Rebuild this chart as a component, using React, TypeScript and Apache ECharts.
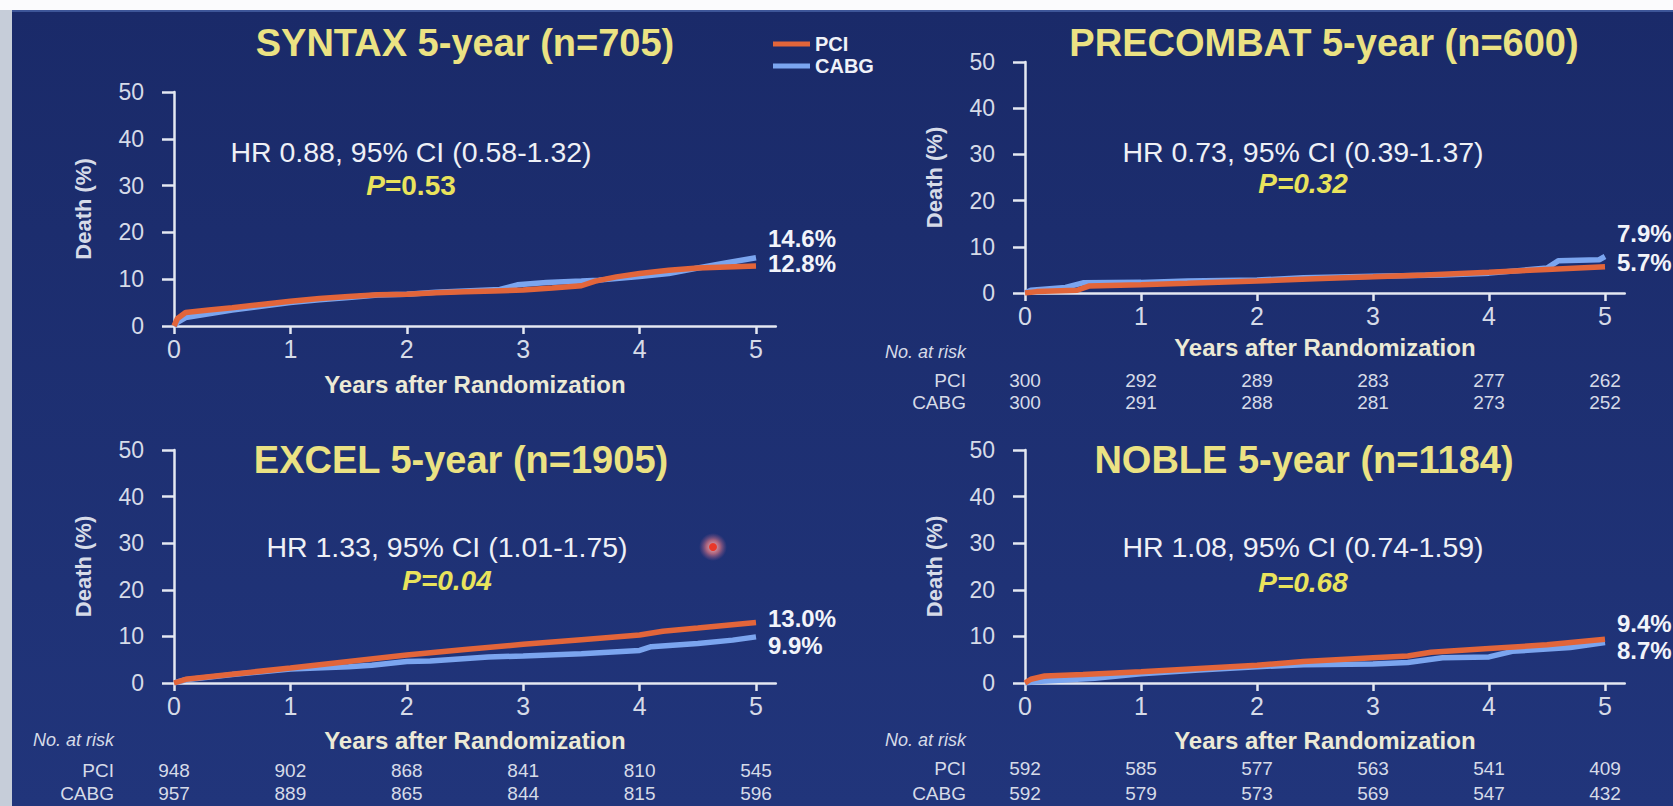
import React, { useEffect, useRef } from 'react';
import * as echarts from 'echarts';

const FONT = '"Liberation Sans", Arial, Helvetica, sans-serif';

const years = [0, 1, 2, 3, 4, 5];
const X_MAX = 5.17;

// Cumulative death (%) by years after randomization: [year, percent]
const syntaxPCI = [[0, 0], [0.03, 1.6], [0.1, 2.9], [0.3, 3.4], [0.5, 3.9], [0.75, 4.6], [1, 5.3], [1.25, 5.9], [1.5, 6.3], [1.75, 6.7], [2, 6.8], [2.25, 7.1], [2.5, 7.3], [2.75, 7.5], [3, 7.7], [3.25, 8.1], [3.5, 8.6], [3.62, 9.6], [3.8, 10.5], [4, 11.2], [4.25, 11.9], [4.5, 12.4], [4.75, 12.6], [5, 12.8]];
const syntaxCABG = [[0, 0], [0.03, 0.8], [0.1, 1.8], [0.3, 2.6], [0.5, 3.4], [0.75, 4.2], [1, 5.0], [1.25, 5.6], [1.5, 6.1], [1.75, 6.6], [2, 6.8], [2.25, 7.2], [2.5, 7.5], [2.8, 7.8], [2.95, 8.8], [3.2, 9.3], [3.5, 9.6], [3.65, 9.8], [4, 10.6], [4.25, 11.2], [4.5, 12.4], [4.75, 13.5], [5, 14.6]];

const precombatPCI = [[0, 0], [0.1, 0.3], [0.45, 0.6], [0.55, 1.5], [1, 1.8], [1.4, 2.1], [2, 2.6], [2.5, 3.1], [3, 3.5], [3.45, 3.9], [4, 4.5], [4.5, 5.1], [5, 5.7]];
const precombatCABG = [[0, 0], [0.05, 0.6], [0.35, 1.2], [0.5, 2.2], [1, 2.3], [1.4, 2.6], [2, 2.8], [2.4, 3.3], [3, 3.6], [3.6, 3.9], [4, 4.3], [4.5, 5.4], [4.6, 7.0], [4.95, 7.2], [5, 7.9]];

const excelPCI = [[0, 0], [0.1, 0.8], [0.5, 1.9], [1, 3.2], [1.5, 4.6], [2, 6.0], [2.5, 7.2], [3, 8.3], [3.5, 9.3], [4, 10.3], [4.2, 11.1], [4.5, 11.8], [4.75, 12.4], [5, 13.0]];
const excelCABG = [[0, 0], [0.1, 0.7], [0.5, 1.8], [1, 3.0], [1.5, 3.5], [1.7, 3.8], [2, 4.6], [2.2, 4.7], [2.7, 5.6], [3, 5.8], [3.5, 6.3], [4, 7.0], [4.1, 7.8], [4.5, 8.5], [4.8, 9.2], [5, 9.9]];

const noblePCI = [[0, 0], [0.05, 0.8], [0.17, 1.5], [0.5, 1.8], [1, 2.4], [1.5, 3.1], [2, 3.8], [2.4, 4.6], [3, 5.4], [3.3, 5.8], [3.5, 6.6], [4, 7.4], [4.5, 8.2], [5, 9.4]];
const nobleCABG = [[0, 0], [0.1, 0.3], [0.6, 1.0], [1, 2.0], [1.5, 2.8], [2, 3.5], [2.4, 3.9], [3, 4.1], [3.3, 4.4], [3.6, 5.4], [4, 5.6], [4.2, 6.8], [4.7, 7.6], [5, 8.7]];

// Numbers at risk at each year
const riskGroups = ['PCI', 'CABG'];
const precombatRiskPCI = [300, 292, 289, 283, 277, 262];
const precombatRiskCABG = [300, 291, 288, 281, 273, 252];
const excelRiskPCI = [948, 902, 868, 841, 810, 545];
const excelRiskCABG = [957, 889, 865, 844, 815, 596];
const nobleRiskPCI = [592, 585, 577, 563, 541, 409];
const nobleRiskCABG = [592, 579, 573, 569, 547, 432];

const titles = ['SYNTAX 5-year (n=705)', 'PRECOMBAT 5-year (n=600)', 'EXCEL 5-year (n=1905)', 'NOBLE 5-year (n=1184)'];
const hazardTexts = ['HR 0.88, 95% CI (0.58-1.32)', 'HR 0.73, 95% CI (0.39-1.37)', 'HR 1.33, 95% CI (1.01-1.75)', 'HR 1.08, 95% CI (0.74-1.59)'];
const pValues = ['0.53', '0.32', '0.04', '0.68'];

const ORANGE = '#e2653a';
const BLUE = '#7ba5ef';
const AXIS = '#e4e8f2';
const LABEL = '#d6dbe8';
const TITLE = '#ebe283';
const PCOLOR = '#e9e35c';

const panels = [
  { pci: syntaxPCI, cabg: syntaxCABG, risk: null as null | number[][], pAllItalic: false },
  { pci: precombatPCI, cabg: precombatCABG, risk: [precombatRiskPCI, precombatRiskCABG], pAllItalic: true },
  { pci: excelPCI, cabg: excelCABG, risk: [excelRiskPCI, excelRiskCABG], pAllItalic: true },
  { pci: noblePCI, cabg: nobleCABG, risk: [nobleRiskPCI, nobleRiskCABG], pAllItalic: true },
];

// Screen layout of each panel
const layouts = [
  { left: 174, top: 92, w: 582, h: 234, title: [465, 43], hr: [411, 152], p: [411, 185], endX: 768, endY: [238, 263], nameGap: 46, riskX: 0, riskY: [] as number[] },
  { left: 1025, top: 62, w: 580, h: 231, title: [1324, 43], hr: [1303, 152], p: [1303, 183], endX: 1617, endY: [233, 262], nameGap: 42, riskX: 966, riskY: [352, 380, 402] },
  { left: 174, top: 450, w: 582, h: 233, title: [461, 460], hr: [447, 547], p: [447, 580], endX: 768, endY: [618, 645], nameGap: 45, riskX: 114, riskY: [740, 770, 793] },
  { left: 1025, top: 450, w: 580, h: 233, title: [1304, 460], hr: [1303, 547], p: [1303, 582], endX: 1617, endY: [623, 650], nameGap: 45, riskX: 966, riskY: [740, 768, 793] },
];

function textEl(x: number, y: number, text: string, style: any) {
  return {
    type: 'text',
    x,
    y,
    z: 10,
    style: { text, fontFamily: FONT, align: 'center', verticalAlign: 'middle', ...style },
  };
}

export default function App() {
  const ref = useRef<HTMLDivElement>(null);

  useEffect(() => {
    if (!ref.current) return;
    const chart = echarts.init(ref.current, null, { renderer: 'svg' });

    const grids = layouts.map((l) => ({
      left: l.left,
      top: l.top,
      width: (l.w * X_MAX) / 5,
      height: l.h,
      containLabel: false,
    }));

    const xAxes = layouts.map((l, i) => ({
      type: 'value',
      gridIndex: i,
      min: 0,
      max: X_MAX,
      interval: 1,
      splitLine: { show: false },
      axisLine: { show: true, lineStyle: { color: AXIS, width: 2.5 } },
      axisTick: { show: true, customValues: years, length: 8, lineStyle: { color: AXIS, width: 2.5 } },
      axisLabel: { customValues: years, color: LABEL, fontSize: 25, fontFamily: FONT, margin: 10 },
      name: 'Years after Randomization',
      nameLocation: 'middle',
      nameGap: l.nameGap,
      nameTextStyle: { color: '#ecead6', fontSize: 24, fontWeight: 'bold', fontFamily: FONT },
    }));

    const yAxes = layouts.map((_, i) => ({
      type: 'value',
      gridIndex: i,
      min: 0,
      max: 50,
      interval: 10,
      splitLine: { show: false },
      axisLine: { show: true, lineStyle: { color: AXIS, width: 2.5 } },
      axisTick: { show: true, length: 12, lineStyle: { color: AXIS, width: 2.5 } },
      axisLabel: { color: LABEL, fontSize: 23, fontFamily: FONT, margin: 30 },
      name: 'Death (%)',
      nameLocation: 'middle',
      nameGap: 80,
      nameTextStyle: { color: LABEL, fontSize: 22, fontWeight: 'bold', fontFamily: FONT },
    }));

    const series: any[] = [];
    panels.forEach((p, i) => {
      series.push({
        type: 'line',
        name: 'CABG',
        xAxisIndex: i,
        yAxisIndex: i,
        data: p.cabg,
        showSymbol: false,
        color: BLUE,
        lineStyle: { color: BLUE, width: 5.5 },
        z: 3,
      });
      series.push({
        type: 'line',
        name: 'PCI',
        xAxisIndex: i,
        yAxisIndex: i,
        data: p.pci,
        showSymbol: false,
        color: ORANGE,
        lineStyle: { color: ORANGE, width: 5.5 },
        z: 4,
      });
    });

    const graphics: any[] = [
      // page frame and slide background
      { type: 'rect', z: -5, shape: { x: 0, y: 0, width: 1673, height: 806 }, style: { fill: '#fbfbfd' } },
      { type: 'rect', z: -5, shape: { x: 0, y: 10, width: 12, height: 796 }, style: { fill: '#c6cdd9' } },
      {
        type: 'rect',
        z: -4,
        shape: { x: 12, y: 10, width: 1661, height: 796 },
        style: {
          fill: new echarts.graphic.LinearGradient(0, 0, 0, 1, [
            { offset: 0, color: '#1a2a69' },
            { offset: 1, color: '#21357b' },
          ]),
        },
      },
      { type: 'rect', z: -3, shape: { x: 12, y: 10, width: 1661, height: 2 }, style: { fill: '#3d5598' } },
    ];

    panels.forEach((p, i) => {
      const l = layouts[i];
      graphics.push(textEl(l.title[0], l.title[1], titles[i], { fill: TITLE, fontSize: 38, fontWeight: 'bold' }));
      graphics.push(textEl(l.hr[0], l.hr[1], hazardTexts[i], { fill: '#eef0f6', fontSize: 28.5 }));
      const pText = p.pAllItalic ? `{i|P=${pValues[i]}}` : `{i|P}{b|=${pValues[i]}}`;
      graphics.push({
        type: 'text',
        x: l.p[0],
        y: l.p[1],
        z: 10,
        style: {
          text: pText,
          align: 'center',
          verticalAlign: 'middle',
          rich: {
            i: { fill: PCOLOR, fontSize: 28, fontWeight: 'bold', fontStyle: 'italic', fontFamily: FONT },
            b: { fill: PCOLOR, fontSize: 28, fontWeight: 'bold', fontFamily: FONT },
          },
        },
      });
      const finals = [p.cabg[p.cabg.length - 1][1], p.pci[p.pci.length - 1][1]].sort((a, b) => b - a);
      finals.forEach((v, k) => {
        graphics.push({
          type: 'text',
          x: l.endX,
          y: l.endY[k],
          z: 10,
          style: {
            text: `${v.toFixed(1)}%`,
            fill: '#f2f4fa',
            fontSize: 24,
            fontWeight: 'bold',
            fontFamily: FONT,
            align: 'left',
            verticalAlign: 'middle',
          },
        });
      });
    });

    // laser pointer spot
    graphics.push({
      type: 'circle',
      z: 11,
      shape: { cx: 713, cy: 547, r: 14 },
      style: {
        fill: new echarts.graphic.RadialGradient(0.5, 0.5, 0.5, [
          { offset: 0, color: 'rgba(255,200,200,0.95)' },
          { offset: 0.5, color: 'rgba(225,120,130,0.7)' },
          { offset: 1, color: 'rgba(160,90,140,0)' },
        ]),
      },
    });
    graphics.push({ type: 'circle', z: 12, shape: { cx: 713, cy: 547, r: 4 }, style: { fill: '#e8382a' } });

    const option: any = {
      animation: false,
      backgroundColor: '#fbfbfd',
      grid: grids,
      xAxis: xAxes,
      yAxis: yAxes,
      legend: {
        data: ['PCI', 'CABG'],
        orient: 'vertical',
        left: 768,
        top: 29,
        icon: 'rect',
        itemWidth: 37,
        itemHeight: 5,
        itemGap: 2,
        selectedMode: false,
        textStyle: { color: '#f0f2f8', fontSize: 20, fontWeight: 'bold', fontFamily: FONT, lineHeight: 20 },
      },
      series,
      graphic: graphics,
    };

    chart.setOption(option);

    // at-risk tables, columns placed on the x-axis scale of each panel
    const riskGraphics: any[] = [];
    panels.forEach((p, i) => {
      if (!p.risk) return;
      const l = layouts[i];
      riskGraphics.push({
        type: 'text',
        x: l.riskX,
        y: l.riskY[0],
        z: 10,
        style: { text: 'No. at risk', fill: LABEL, fontSize: 18, fontStyle: 'italic', fontFamily: FONT, align: 'right', verticalAlign: 'middle' },
      });
      riskGroups.forEach((g, r) => {
        const yy = l.riskY[r + 1];
        riskGraphics.push({
          type: 'text',
          x: l.riskX,
          y: yy,
          z: 10,
          style: { text: g, fill: LABEL, fontSize: 19, fontFamily: FONT, align: 'right', verticalAlign: 'middle' },
        });
        (p.risk as number[][])[r].forEach((n, k) => {
          const px = chart.convertToPixel({ xAxisIndex: i }, years[k]) as number;
          riskGraphics.push(textEl(px, yy, String(n), { fill: LABEL, fontSize: 19 }));
        });
      });
    });
    chart.setOption({ graphic: [...graphics, ...riskGraphics] }, { replaceMerge: ['graphic'] });

    return () => chart.dispose();
  }, []);

  return <div ref={ref} style={{ position: 'absolute', left: 0, top: 0, width: 1673, height: 806 }} />;
}
